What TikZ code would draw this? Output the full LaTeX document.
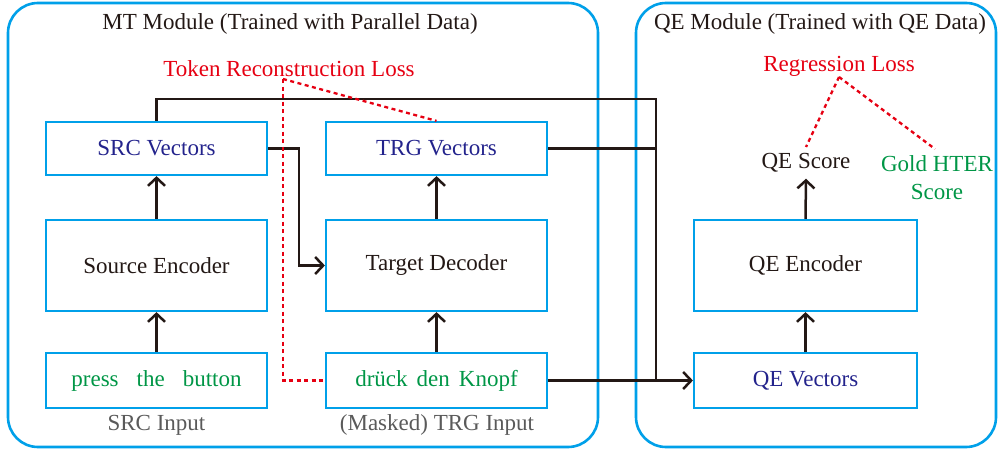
\documentclass[tikz,border=0pt]{standalone}
\usepackage{fontspec}
\setmainfont{Liberation Serif}
\usetikzlibrary{arrows.meta}
\definecolor{boxblue}{RGB}{0,160,233}
\definecolor{navy}{RGB}{35,35,140}
\definecolor{grn}{RGB}{0,150,70}
\definecolor{rd}{RGB}{230,0,18}
\definecolor{gry}{RGB}{90,90,90}
\definecolor{ink}{RGB}{35,24,21}
\tikzset{
  module/.style={draw=boxblue,line width=2.6pt,rounded corners=30pt},
  blk/.style={draw=boxblue,line width=2.2pt,minimum width=221pt,inner sep=0pt,font=\fontsize{23}{26}\selectfont},
  lbl/.style={inner sep=0pt,font=\fontsize{23}{28}\selectfont},
  conn/.style={draw=ink,line width=2.5pt},
  arr/.style={conn,-{Straight Barb[length=8pt,width=17pt,line width=2.5pt]}},
  loss/.style={draw=rd,line width=2.3pt,dash pattern=on 4pt off 3.5pt}
}
\begin{document}
\begin{tikzpicture}[x=1pt,y=-1pt]
\useasboundingbox (0,0) rectangle (998,452);
% modules
\draw[module] (8,3) rectangle (598,447);
\draw[module] (636,3) rectangle (996,447);
\node[lbl,text=ink] (mttitle) at (290,24) {MT Module (Trained with Parallel Data)};
\node[lbl,text=ink] (qetitle) at (820,24) {QE Module (Trained with QE Data)};
% MT blocks
\node[blk,minimum height=53pt,text=navy] (src) at (156.5,148.5) {SRC Vectors};
\node[blk,minimum height=53pt,text=navy] (trg) at (436.5,148.5) {TRG Vectors};
\node[blk,minimum height=91pt,text=ink] (senc) at (156.5,265.5) {Source Encoder};
\node[blk,minimum height=91pt,text=ink] (tdec) at (436.5,265.5) {Target Decoder};
\node[blk,minimum height=55pt,text=grn] (sin) at (156.5,380.5) {press\hspace{18pt}the\hspace{18pt}button};
\node[blk,minimum height=55pt,text=grn] (tin) at (436.5,380.5) {drück\hspace{9pt}den\hspace{9pt}Knopf};
\node[lbl,text=gry] (sinl) at (156.5,425) {SRC Input};
\node[lbl,text=gry] (tinl) at (437,425) {(Masked) TRG Input};
\node[lbl,text=rd] (tokloss) at (289,69) {Token Reconstruction Loss};
% QE blocks
\node[blk,minimum width=223pt,minimum height=55pt,text=navy] (qev) at (805.5,380.5) {QE Vectors};
\node[blk,minimum width=223pt,minimum height=91pt,text=ink] (qenc) at (805.5,265.5) {QE Encoder};
\node[lbl,text=ink] (qes) at (806,163) {QE Score};
\node[lbl,text=grn,align=center] (gold) at (937,178) {Gold HTER\\Score};
\node[lbl,text=rd] (regloss) at (839,66) {Regression Loss};
% coordinates
\coordinate (j1) at (656,99);
\coordinate (j2) at (656,380.5);
\coordinate (k1) at (299,148.5);
\coordinate (t0) at (283,79);
\coordinate (t1) at (283,380.5);
\coordinate (r0) at (839,77);
\coordinate (r1) at (806,147);
\coordinate (r2) at (935,149);
% arrows
\draw[arr] (sin.north) -- (senc.south);
\draw[arr] (senc.north) -- (src.south);
\draw[arr] (tin.north) -- (tdec.south);
\draw[arr] (tdec.north) -- (trg.south);
\draw[arr] (qev.north) -- (qenc.south);
\draw[arr] (qenc.north) -- ([yshift=-6pt]qes.south);
\draw[arr] (src.east) -- (k1) |- (tdec.west);
\draw[conn] (src.north) |- (j1) -- (j2);
\draw[conn] (trg.east) -- (trg.east -| j1);
\draw[arr] (tin.east) -- (qev.west);
% losses
\draw[loss] (t0) -- (t1) -- (tin.west);
\draw[loss] (t0) -- (trg.north);
\draw[loss] (r0) -- (r1);
\draw[loss] (r0) -- (r2);
\end{tikzpicture}
\end{document}
